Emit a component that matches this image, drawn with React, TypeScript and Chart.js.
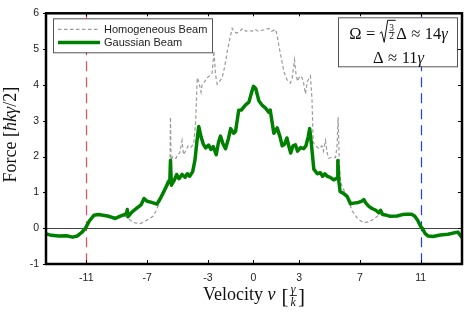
import React, { useEffect, useRef } from 'react';
import { Chart, registerables } from 'chart.js';
Chart.register(...registerables);

// ---- data ----
const seriesLabels = ['Homogeneous Beam', 'Gaussian Beam'];
const xTicks = [-11, -7, -3, 0, 3, 7, 11];
const yTicks = [-1, 0, 1, 2, 3, 4, 5, 6];
const resonanceV = [-11, 11];

const gaussX = [
  -13.7, -13.3, -12.8, -12.3, -11.9, -11.6, -11.3, -11.05, -10.8, -10.5, -10.2, -9.9, -9.6, -9.3, -9.1,
  -8.8, -8.5, -8.35, -8.3, -8.25, -8.0, -7.7, -7.4, -7.2, -7.0, -6.7, -6.35, -6.1, -5.9, -5.75, -5.6,
  -5.5, -5.46, -5.4, -5.2, -5.05, -4.9, -4.7, -4.5, -4.35, -4.2, -4.0, -3.85, -3.7, -3.6, -3.45, -3.3,
  -3.15, -2.95, -2.8, -2.65, -2.45, -2.3, -2.17, -2.0, -1.84, -1.65, -1.5, -1.3, -1.18, -0.97, -0.8,
  -0.5, -0.3, -0.15, 0.0, 0.15, 0.35, 0.6, 0.8, 1.0, 1.1, 1.34, 1.56, 1.75, 1.89, 2.05, 2.2, 2.35,
  2.45, 2.6, 2.76, 2.9, 3.1, 3.3, 3.45, 3.6, 3.7, 3.8, 3.97, 4.2, 4.4, 4.55, 4.7, 4.85, 5.05, 5.28,
  5.5, 5.55, 5.62, 5.7, 5.9, 6.16, 6.38, 6.6, 6.9, 7.1, 7.26, 7.4, 7.59, 7.8, 8.05, 8.24, 8.36, 8.5,
  8.68, 9.0, 9.45, 9.8, 10.1, 10.4, 10.6, 10.8, 11.0, 11.1, 11.3, 11.5, 11.8, 12.3, 12.8, 13.2, 13.45, 13.7,
];
const gaussY = [
  -0.15, -0.2, -0.22, -0.21, -0.25, -0.22, -0.12, 0.0, 0.2, 0.36, 0.38, 0.36, 0.34, 0.3, 0.27,
  0.33, 0.38, 0.42, 0.52, 0.32, 0.45, 0.55, 0.65, 0.83, 0.75, 0.72, 0.67, 0.85, 1.02, 1.15, 1.3,
  1.35, 1.9, 1.2, 1.35, 1.5, 1.38, 1.5, 1.42, 1.52, 1.45, 1.58, 1.9, 2.5, 2.84, 2.55, 2.35,
  2.24, 2.32, 2.2, 2.28, 2.05, 2.4, 2.57, 2.35, 2.22, 2.5, 2.78, 2.65, 2.7, 3.29, 3.3,
  3.45, 3.52, 3.75, 3.96, 3.9, 3.56, 3.42, 3.35, 3.24, 3.3, 2.65, 2.8, 2.55, 2.3, 2.35, 2.52, 2.25,
  2.1, 2.3, 2.33, 2.15, 2.25, 2.22, 2.3, 2.55, 2.78, 2.4, 1.65, 1.52, 1.55, 1.45, 1.52, 1.45, 1.42, 1.35,
  1.4, 1.89, 1.3, 1.02, 0.98, 0.89, 0.68, 0.7, 0.72, 0.75, 0.8, 0.7, 0.61, 0.55, 0.5, 0.43, 0.5, 0.38,
  0.37, 0.33, 0.34, 0.38, 0.39, 0.39, 0.34, 0.22, 0.05, 0.0, -0.15, -0.22, -0.23, -0.19, -0.17, -0.13, -0.11, -0.25,
];

const homX = [
  -13.7, -13.3, -12.8, -12.3, -11.9, -11.6, -11.3, -11.05, -10.8, -10.5, -10.2, -9.9, -9.6, -9.3, -9.0,
  -8.7, -8.4, -8.1, -7.8, -7.43, -7.1, -6.8, -6.6, -6.45, -6.3, -6.1, -6.0, -5.8, -5.6, -5.5, -5.46,
  -5.42, -5.3, -5.1, -5.0, -4.85, -4.7, -4.6, -4.47, -4.3, -4.14, -3.93, -3.8, -3.7, -3.6, -3.45, -3.38,
  -3.2, -3.05, -2.9, -2.72, -2.6, -2.5, -2.39, -2.2, -2.06, -1.9, -1.73, -1.55, -1.4, -1.25, -1.1, -0.9,
  -0.7, -0.5, -0.3, -0.1, 0.1, 0.3, 0.5, 0.8, 1.0, 1.2, 1.45, 1.55, 1.67, 1.85, 2.0, 2.2, 2.43, 2.55,
  2.7, 2.8, 2.9, 3.05, 3.2, 3.3, 3.42, 3.55, 3.75, 3.85, 3.93, 4.1, 4.3, 4.5, 4.6, 4.74, 4.85, 4.95,
  5.2, 5.4, 5.5, 5.57, 5.65, 5.72, 5.9, 6.16, 6.35, 6.5, 6.8, 7.0, 7.26, 7.6, 7.9, 8.2, 8.4, 8.68, 9.0,
  9.45, 9.8, 10.1, 10.4, 10.6, 10.8, 11.0, 11.1, 11.3, 11.5, 11.8, 12.3, 12.8, 13.2, 13.45, 13.7,
];
const homY = [
  -0.15, -0.2, -0.22, -0.21, -0.25, -0.22, -0.12, 0.0, 0.2, 0.36, 0.38, 0.36, 0.33, 0.32, 0.32,
  0.35, 0.33, 0.22, 0.15, 0.13, 0.2, 0.28, 0.34, 0.45, 0.6, 0.8, 0.98, 1.1, 1.2, 1.4, 3.1,
  1.9, 2.0, 1.95, 2.05, 2.1, 2.45, 2.05, 2.15, 2.3, 2.25, 2.35, 3.0, 4.2, 4.1, 3.8, 4.0,
  4.1, 4.2, 4.25, 4.33, 4.95, 4.3, 4.02, 4.12, 4.2, 4.5, 4.92, 5.3, 5.58, 5.48, 5.45, 5.5,
  5.58, 5.5, 5.52, 5.5, 5.55, 5.5, 5.52, 5.55, 5.58, 5.5, 5.55, 5.4, 5.1, 4.7, 4.37, 4.15, 4.05, 4.2,
  4.7, 4.3, 4.1, 4.25, 4.2, 4.05, 3.75, 4.1, 4.25, 3.6, 2.4, 2.3, 2.22, 2.3, 2.15, 2.45, 2.1, 1.95,
  1.98, 1.97, 2.3, 3.1, 1.8, 1.3, 1.1, 0.9, 0.65, 0.48, 0.3, 0.22, 0.15, 0.18, 0.25, 0.35, 0.4, 0.37, 0.33,
  0.34, 0.38, 0.39, 0.39, 0.34, 0.22, 0.05, 0.0, -0.15, -0.22, -0.23, -0.19, -0.17, -0.13, -0.11, -0.25,
];

const SERIF = '"Liberation Serif", "Times New Roman", serif';
const SANS = '"Liberation Sans", Arial, sans-serif';

type Piece = { t?: string; font?: string; gap?: number; custom?: 'radical'; w?: number };

function pieceWidth(ctx: CanvasRenderingContext2D, p: Piece) {
  if (p.gap !== undefined) return p.gap;
  if (p.custom) return p.w || 0;
  ctx.font = p.font!;
  return ctx.measureText(p.t!).width;
}

function drawPieces(
  ctx: CanvasRenderingContext2D,
  pieces: Piece[],
  x: number,
  base: number,
  custom?: (kind: string, x: number) => void,
) {
  let cx = x;
  for (const p of pieces) {
    const w = pieceWidth(ctx, p);
    if (p.custom) custom && custom(p.custom, cx);
    else if (p.t) {
      ctx.font = p.font!;
      ctx.fillText(p.t, cx, base);
    }
    cx += w;
  }
  return cx;
}
function totalWidth(ctx: CanvasRenderingContext2D, pieces: Piece[]) {
  return pieces.reduce((s, p) => s + pieceWidth(ctx, p), 0);
}

const overlay = {
  id: 'overlay',
  beforeDatasetsDraw(chart: any) {
    const { ctx, chartArea: a, scales } = chart;
    const x = scales.x, y = scales.y;
    ctx.save();
    const y0 = Math.round(y.getPixelForValue(0)) + 0.5;
    ctx.strokeStyle = '#444';
    ctx.lineWidth = 1;
    ctx.beginPath(); ctx.moveTo(a.left, y0); ctx.lineTo(a.right, y0); ctx.stroke();
    const cols = ['#ec4a58', '#1f3cff'];
    resonanceV.forEach((v, i) => {
      const px = Math.round(x.getPixelForValue(v)) + 0.5;
      ctx.strokeStyle = cols[i];
      ctx.lineWidth = 1.2;
      ctx.setLineDash([10, 6]);
      ctx.beginPath(); ctx.moveTo(px, a.top); ctx.lineTo(px, a.bottom); ctx.stroke();
    });
    ctx.restore();
  },
  afterDatasetsDraw(chart: any) {
    const { ctx, chartArea: a, scales } = chart;
    const x = scales.x, y = scales.y;
    ctx.save();
    // ticks
    ctx.strokeStyle = '#000';
    ctx.lineWidth = 1;
    ctx.beginPath();
    xTicks.forEach((v) => {
      const px = Math.round(x.getPixelForValue(v)) + 0.5;
      ctx.moveTo(px, a.bottom); ctx.lineTo(px, a.bottom - 4);
      ctx.moveTo(px, a.top); ctx.lineTo(px, a.top + 3);
    });
    yTicks.forEach((v) => {
      const py = Math.round(y.getPixelForValue(v)) + 0.5;
      ctx.moveTo(a.right, py); ctx.lineTo(a.right - 4, py);
      ctx.moveTo(a.left, py); ctx.lineTo(a.left - 3, py);
    });
    ctx.stroke();
    // frame
    ctx.lineWidth = 2.5;
    ctx.strokeRect(a.left, a.top, a.right - a.left, a.bottom - a.top);

    // legend
    const lx = a.left + 7, ly = a.top + 5, lw = 159, lh = 34;
    ctx.fillStyle = '#fff';
    ctx.fillRect(lx, ly, lw, lh);
    ctx.lineWidth = 1;
    ctx.strokeStyle = '#555';
    ctx.strokeRect(lx + 0.5, ly + 0.5, lw, lh);
    const ds = chart.data.datasets;
    const order = [1, 0];
    order.forEach((di, i) => {
      const d = ds[di];
      const yy = ly + 11 + i * 13.3;
      ctx.save();
      ctx.strokeStyle = d.borderColor;
      ctx.lineWidth = d.borderWidth;
      ctx.setLineDash(d.borderDash || []);
      ctx.beginPath(); ctx.moveTo(lx + 5, yy); ctx.lineTo(lx + 47, yy); ctx.stroke();
      ctx.restore();
      ctx.fillStyle = '#222';
      ctx.font = `11px ${SANS}`;
      ctx.textBaseline = 'middle';
      ctx.fillText(d.label, lx + 51, yy + 0.5);
    });

    // annotation box
    const bw = 119, bh = 49;
    const bx = a.right - 5 - bw, by = a.top + 4;
    ctx.fillStyle = '#fff';
    ctx.fillRect(bx, by, bw, bh);
    ctx.strokeStyle = '#555';
    ctx.lineWidth = 1;
    ctx.strokeRect(bx + 0.5, by + 0.5, bw, bh);
    ctx.fillStyle = '#111';
    ctx.strokeStyle = '#111';
    ctx.textBaseline = 'alphabetic';
    const f = `16.5px ${SERIF}`, fi = `italic 16.5px ${SERIF}`, fs = `9.5px ${SERIF}`;
    const base1 = by + 22;
    const fracW = 6;
    const line1: Piece[] = [
      { t: 'Ω', font: f }, { gap: 4.5 }, { t: '=', font: f }, { gap: 4 },
      { custom: 'radical', w: 9 + fracW + 2 },
      { t: 'Δ', font: f }, { gap: 4.5 }, { t: '≈', font: f }, { gap: 4.5 },
      { t: '14', font: f }, { t: 'γ', font: fi },
    ];
    const cxMid = bx + bw / 2 + 1;
    const w1 = totalWidth(ctx, line1);
    drawPieces(ctx, line1, cxMid - w1 / 2, base1, (_k, rx) => {
      const top = base1 - 19;
      ctx.lineWidth = 1;
      ctx.beginPath();
      ctx.moveTo(rx + 0.5, base1 - 6);
      ctx.lineTo(rx + 2.5, base1 - 7.5);
      ctx.lineTo(rx + 5, base1 + 3);
      ctx.lineTo(rx + 8.5, top);
      ctx.lineTo(rx + 9 + fracW + 1.5, top);
      ctx.stroke();
      const fx = rx + 9.5;
      ctx.font = fs;
      ctx.textAlign = 'center';
      ctx.fillText('3', fx + fracW / 2, base1 - 8.5);
      ctx.fillText('2', fx + fracW / 2, base1 - 0.5);
      ctx.textAlign = 'left';
      ctx.lineWidth = 0.7;
      ctx.beginPath();
      ctx.moveTo(fx, base1 - 6.8); ctx.lineTo(fx + fracW, base1 - 6.8); ctx.stroke();
    });
    const line2: Piece[] = [
      { t: 'Δ', font: f }, { gap: 4.5 }, { t: '≈', font: f }, { gap: 4.5 },
      { t: '11', font: f }, { t: 'γ', font: fi },
    ];
    const w2 = totalWidth(ctx, line2);
    drawPieces(ctx, line2, cxMid - w2 / 2, by + 46);
    ctx.restore();
  },
  afterDraw(chart: any) {
    const { ctx, chartArea: a } = chart;
    ctx.save();
    ctx.fillStyle = '#111';
    ctx.strokeStyle = '#111';
    ctx.textBaseline = 'alphabetic';
    // x title
    const F = `18px ${SERIF}`, FI = `italic 18px ${SERIF}`, FB = `21px ${SERIF}`, FF = `italic 12px ${SERIF}`;
    const base = 300;
    ctx.font = FF;
    const fw = Math.max(ctx.measureText('γ').width, ctx.measureText('k').width) + 2;
    const xt: Piece[] = [
      { t: 'Velocity ', font: F }, { t: 'v', font: FI }, { gap: 6 },
      { custom: 'frac', w: 0 },
    ];
    ctx.font = FB;
    const bwid = ctx.measureText('[').width;
    const fracTotal = bwid * 2 + fw + 2;
    const total = totalWidth(ctx, xt) + fracTotal;
    let cx = (a.left + a.right) / 2 - total / 2;
    cx = drawPieces(ctx, xt, cx, base);
    ctx.font = FB;
    ctx.fillText('[', cx, base + 3);
    cx += bwid + 1;
    ctx.font = FF;
    ctx.textAlign = 'center';
    ctx.fillText('γ', cx + fw / 2, base - 7);
    ctx.fillText('k', cx + fw / 2, base + 6);
    ctx.lineWidth = 0.8;
    ctx.beginPath(); ctx.moveTo(cx, base - 4.5); ctx.lineTo(cx + fw, base - 4.5); ctx.stroke();
    ctx.textAlign = 'left';
    cx += fw + 1;
    ctx.font = FB;
    ctx.fillText(']', cx, base + 3);

    // y title
    const yr: Piece[] = [
      { t: 'Force [', font: F },
      { t: 'ħkγ', font: FI },
      { t: '/2]', font: F },
    ];
    const yw = totalWidth(ctx, yr);
    ctx.translate(16, (a.top + a.bottom) / 2 - 4);
    ctx.rotate(-Math.PI / 2);
    drawPieces(ctx, yr, -yw / 2, 0);
    ctx.restore();
  },
};

export default function App() {
  const ref = useRef<HTMLCanvasElement>(null);
  useEffect(() => {
    document.body.style.margin = '0';
    const canvas = ref.current!;
    const chart = new Chart(canvas, {
      type: 'line',
      data: {
        datasets: [
          {
            label: seriesLabels[1],
            data: gaussX.map((v, i) => ({ x: v, y: gaussY[i] })),
            borderColor: '#008000',
            borderWidth: 3.5,
            pointRadius: 0,
            borderJoinStyle: 'round',
            borderCapStyle: 'round',
            order: 0,
          } as any,
          {
            label: seriesLabels[0],
            data: homX.map((v, i) => ({ x: v, y: homY[i] })),
            borderColor: '#9a9a9a',
            borderWidth: 1.2,
            borderDash: [3.5, 2.5],
            pointRadius: 0,
            order: 1,
          } as any,
        ],
      },
      options: {
        animation: false,
        responsive: false,
        layout: { padding: { top: 7, right: 7, left: 0, bottom: 0 } },
        plugins: { legend: { display: false }, tooltip: { enabled: false } },
        scales: {
          x: {
            type: 'linear',
            min: -13.65,
            max: 13.72,
            afterBuildTicks: (s: any) => { s.ticks = xTicks.map((v) => ({ value: v })); },
            afterFit: (s: any) => { s.height = 50; },
            grid: { display: false, drawTicks: false },
            border: { display: false },
            ticks: { font: { family: SANS, size: 10.5 }, color: '#222', padding: 8, maxRotation: 0, autoSkip: false },
          },
          y: {
            type: 'linear',
            min: -1,
            max: 6,
            afterBuildTicks: (s: any) => { s.ticks = yTicks.map((v) => ({ value: v })); },
            afterFit: (s: any) => { s.width = 46; },
            grid: { display: false, drawTicks: false },
            border: { display: false },
            ticks: { font: { family: SANS, size: 10.5 }, color: '#222', padding: 7, autoSkip: false },
          },
        },
      },
      plugins: [overlay],
    });
    return () => chart.destroy();
  }, []);
  return (
    <div style={{ position: 'fixed', left: 0, top: 0, width: 469, height: 314 }}>
      <canvas ref={ref} width={469} height={314} style={{ width: 469, height: 314, display: 'block' }} />
    </div>
  );
}
